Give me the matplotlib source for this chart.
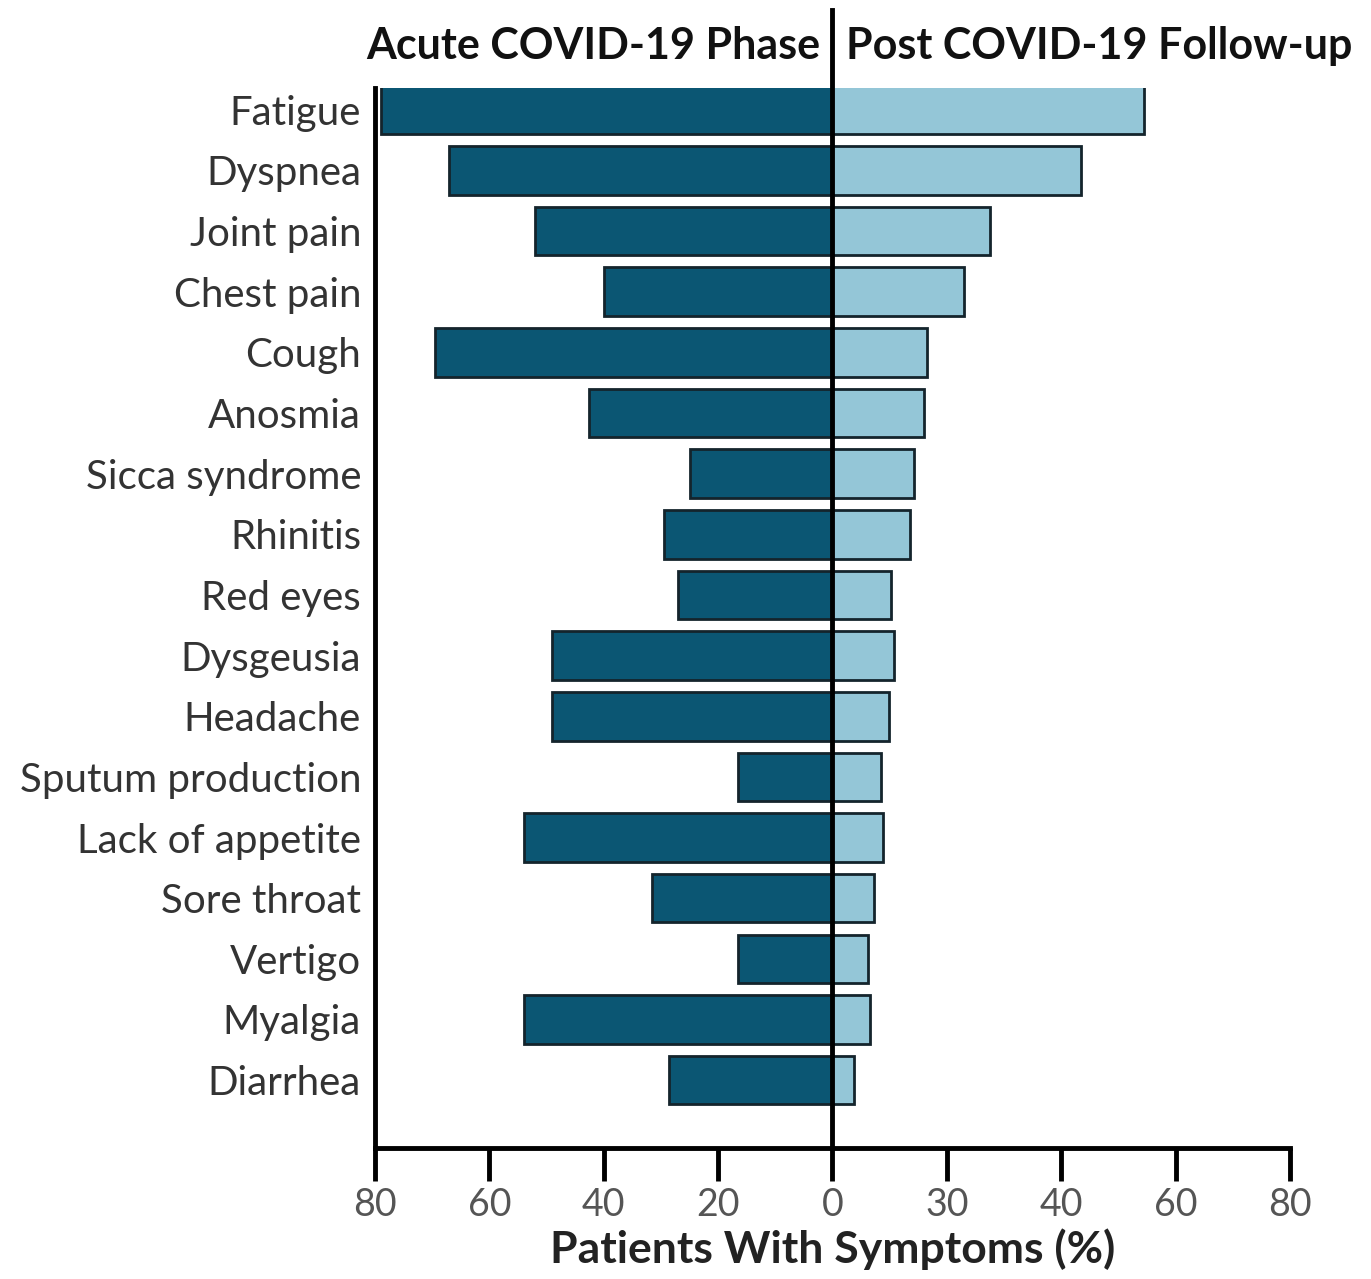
import matplotlib.pyplot as plt

symptoms = ["Fatigue", "Dyspnea", "Joint pain", "Chest pain", "Cough", "Anosmia",
            "Sicca syndrome", "Rhinitis", "Red eyes", "Dysgeusia", "Headache",
            "Sputum production", "Lack of appetite", "Sore throat", "Vertigo",
            "Myalgia", "Diarrhea"]
acute = [79, 67, 52, 40, 69.5, 42.5, 25, 29.5, 27, 49, 49, 16.5, 54, 31.5, 16.5, 54, 28.5]
post = [54.5, 43.5, 27.5, 23, 16.5, 16, 14.3, 13.5, 10.3, 10.8, 9.8, 8.4, 8.9, 7.3, 6.3, 6.5, 3.7]
tick_pos = [-80, -60, -40, -20, 0, 20, 40, 60, 80]
tick_labels = ["80", "60", "40", "20", "0", "30", "40", "60", "80"]

plt.rcParams['font.family'] = ['Lato', 'DejaVu Sans']

fig = plt.figure(figsize=(13.71, 12.79), dpi=100)
ax = fig.add_axes([0.2735, 0.1024, 0.6674, 0.8288])

y = list(range(len(symptoms)))
ax.barh(y, [-v for v in acute], height=0.8, color='#0b5673', edgecolor='#14242c', linewidth=2)
ax.barh(y, post, height=0.8, color='#94c6d7', edgecolor='#14242c', linewidth=2)

ax.set_xlim(-80, 80)
ax.set_ylim(17.12, -0.36)
ax.plot([0, 0], [17.12, -1.65], color='black', lw=3.5, clip_on=False, zorder=5)

ax.set_xticks(tick_pos)
ax.set_xticklabels(tick_labels, fontsize=27, color='#555555')
ax.set_yticks(y)
ax.set_yticklabels(symptoms, fontsize=29, color='#333333')
ax.tick_params(axis='x', length=24, width=3.5, pad=4)
ax.tick_params(axis='y', length=0, pad=10)

for s in ['top', 'right']:
    ax.spines[s].set_visible(False)
for s in ['left', 'bottom']:
    ax.spines[s].set_linewidth(3.5)

ax.set_xlabel("Patients With Symptoms (%)", fontsize=32, fontweight='bold', color='#222222', labelpad=4)

ax.text(-2.2, -1.05, "Acute COVID-19 Phase", ha='right', va='center', fontsize=31,
        fontweight='bold', color='#111111')
ax.text(2.3, -1.05, "Post COVID-19 Follow-up", ha='left', va='center', fontsize=31,
        fontweight='bold', color='#111111')

fig.savefig("out.png", dpi=100)
